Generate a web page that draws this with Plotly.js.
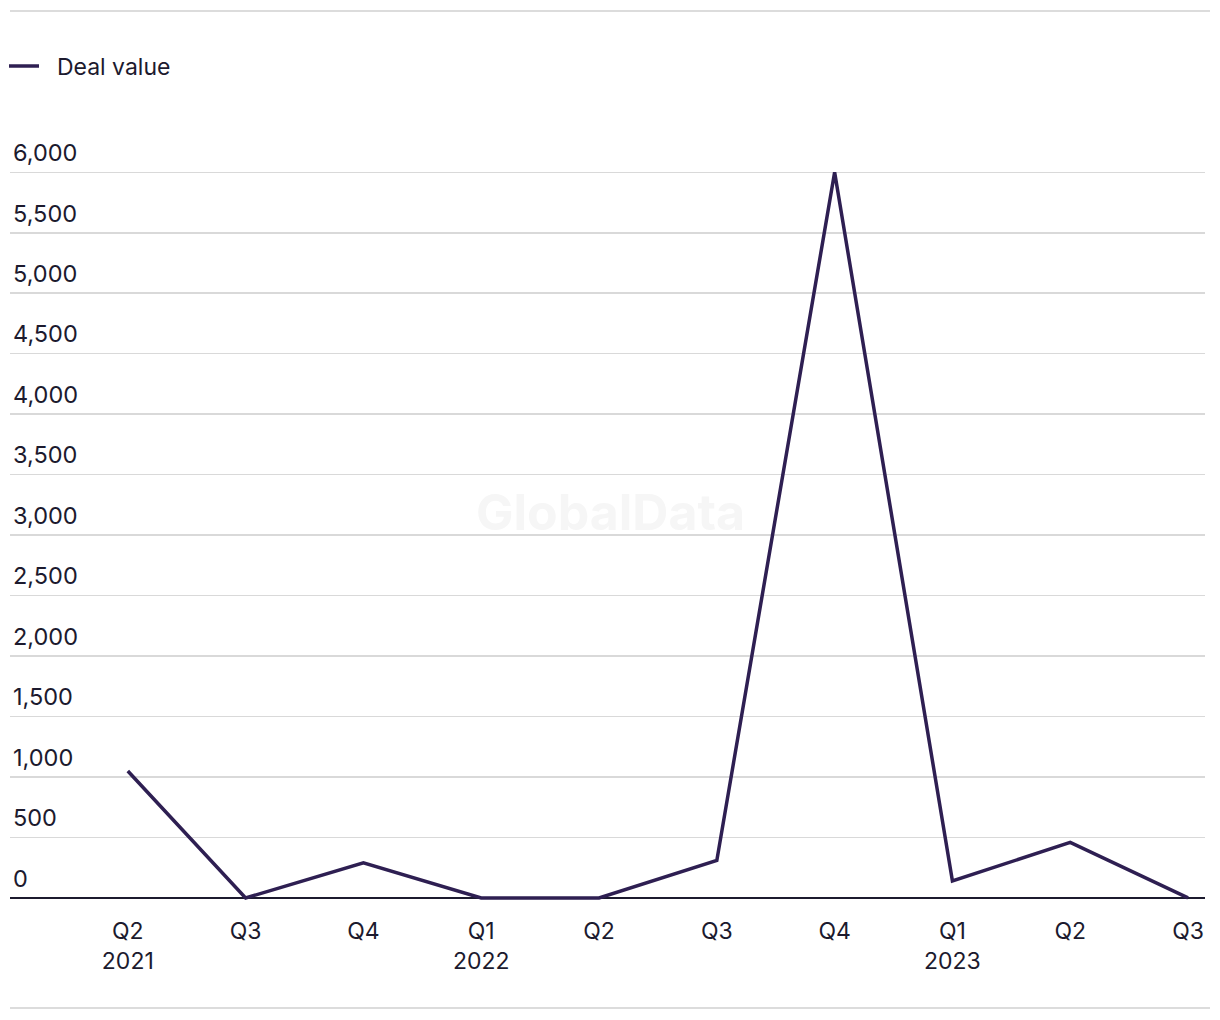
<!DOCTYPE html>
<html>
<head>
<meta charset="utf-8">
<script src="https://cdn.plot.ly/plotly-3.0.1.min.js"></script>
<style>html,body{margin:0;padding:0;background:#fff;}#chart{width:1220px;height:1020px;}</style>
</head>
<body>
<div id="chart"></div>
<script>
const quarters = ['Q2 2021','Q3 2021','Q4 2021','Q1 2022','Q2 2022','Q3 2022','Q4 2022','Q1 2023','Q2 2023','Q3 2023'];
const tickLabels = ['Q2<br>2021','Q3','Q4','Q1<br>2022','Q2','Q3','Q4','Q1<br>2023','Q2','Q3'];
const dealValue = [1050, 0, 290, 0, 0, 310, 6000, 140, 460, 0];
const seriesName = 'Deal value';

const textColor = '#1c1a2e';
const fontFam = 'Inter, Roboto, "Liberation Sans", sans-serif';

const plotTop = 136, plotBottom = 904, plotH = plotBottom - plotTop;

const trace = {
  x: quarters,
  y: dealValue,
  type: 'scatter',
  mode: 'lines',
  name: '\u00a0\u00a0' + seriesName,
  line: {color: '#2e1f52', width: 3.5},
  hoverinfo: 'x+y'
};

const layout = {
  width: 1220,
  height: 1020,
  paper_bgcolor: '#ffffff',
  plot_bgcolor: '#ffffff',
  margin: {l: 10, r: 15, t: plotTop, b: 1020 - plotBottom, autoexpand: false},
  font: {family: fontFam, size: 23, color: textColor},
  showlegend: true,
  legend: {
    orientation: 'h',
    xref: 'container', yref: 'container',
    x: 4 / 1220, xanchor: 'left',
    y: 1 - 66 / 1020, yanchor: 'middle',
    font: {size: 23, color: textColor},
    bgcolor: 'rgba(0,0,0,0)'
  },
  xaxis: {
    type: 'category',
    range: [-1, 9.144],
    tickmode: 'array',
    tickvals: quarters,
    ticktext: tickLabels,
    showgrid: false,
    zeroline: false,
    showline: false,
    ticks: '',
    ticklabelstandoff: 11,
    tickfont: {size: 23, color: textColor},
    fixedrange: true
  },
  yaxis: {
    range: [-50, 6300],
    tick0: 0,
    dtick: 500,
    tickformat: ',d',
    showgrid: true,
    gridcolor: '#d9d9d9',
    gridwidth: 1.5,
    zeroline: true,
    zerolinecolor: '#1c1a2e',
    zerolinewidth: 2,
    showline: false,
    ticks: '',
    ticklabelposition: 'inside top',
    ticklabelshift: -3,
    tickfont: {size: 23.5, color: textColor},
    fixedrange: true
  },
  shapes: [
    {type: 'line', xref: 'paper', yref: 'paper', x0: 0, x1: 1.0042, y0: 1 + (plotTop - 11) / plotH, y1: 1 + (plotTop - 11) / plotH, line: {color: '#dcdcdc', width: 2}},
    {type: 'line', xref: 'paper', yref: 'paper', x0: 0, x1: 1.0042, y0: -(1008 - plotBottom) / plotH, y1: -(1008 - plotBottom) / plotH, line: {color: '#dcdcdc', width: 2}}
  ],
  annotations: [
    {text: '<b>GlobalData</b>', xref: 'paper', yref: 'paper', x: (610 - 10) / 1195, y: 1 - (512 - plotTop) / plotH, showarrow: false, font: {size: 50, color: '#f6f6f6', family: fontFam}}
  ]
};

Plotly.newPlot('chart', [trace], layout, {displayModeBar: false, staticPlot: true});
</script>
</body>
</html>
